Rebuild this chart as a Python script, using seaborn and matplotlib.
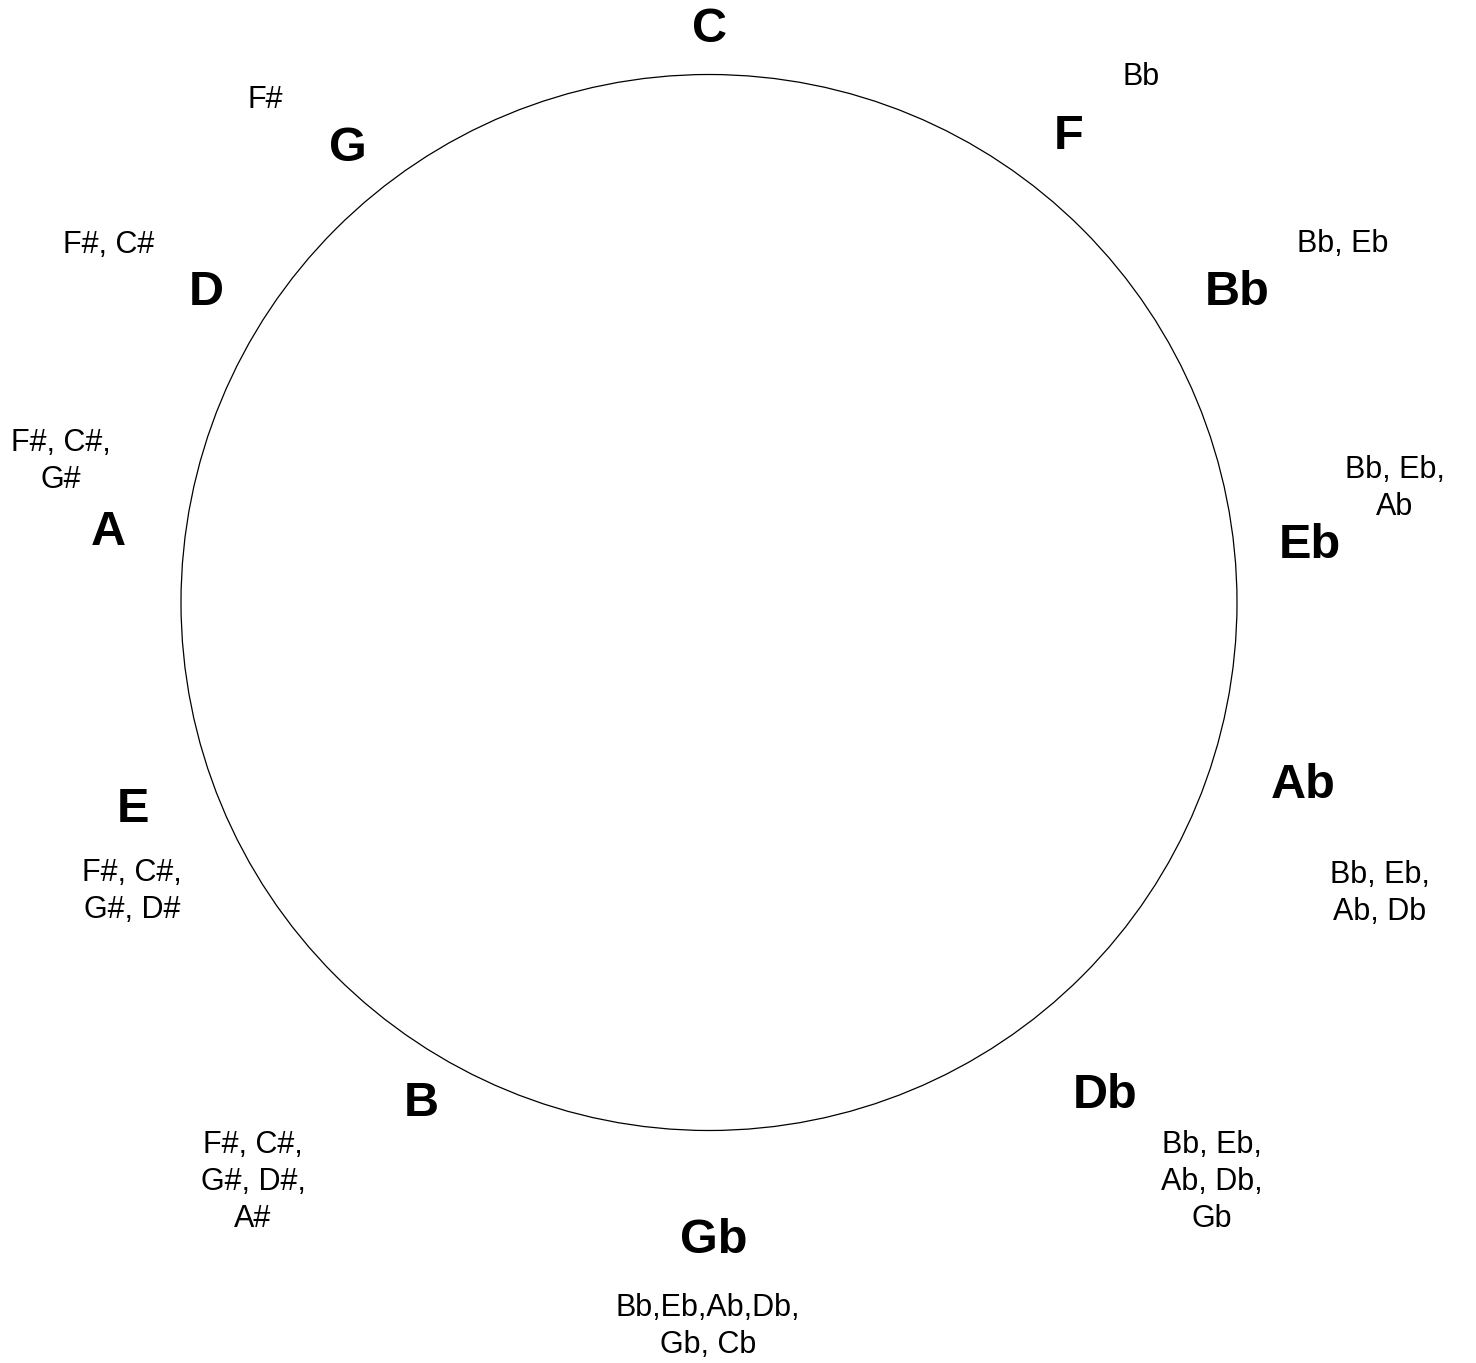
import matplotlib
matplotlib.use("Agg")
import matplotlib.pyplot as plt
import seaborn as sns
from matplotlib.patches import Circle

# --- circle of fifths data ---
keys = ["C", "F", "Bb", "Eb", "Ab", "Db", "Gb", "B", "E", "A", "D", "G"]
accidentals = [
    "",
    "Bb",
    "Bb, Eb",
    "Bb, Eb,\nAb",
    "Bb, Eb,\nAb, Db",
    "Bb, Eb,\nAb, Db,\nGb",
    "Bb,Eb,Ab,Db,\nGb, Cb",
    "F#, C#,\nG#, D#,\nA#",
    "F#, C#,\nG#, D#",
    "F#, C#,\nG#",
    "F#, C#",
    "F#",
]

# --- layout (pixel space, x centre / last-line baseline) ---
key_pos = [(709, 42), (1069, 149), (1237, 305), (1310, 558), (1303, 798), (1105, 1108),
           (714, 1253), (421, 1116), (133, 822), (108, 545), (206, 305), (348, 161)]
acc_pos = [(0, 0), (1141, 85), (1343, 252), (1395, 515), (1380, 920), (1212, 1227),
           (708, 1353), (253, 1227), (132, 918), (61, 488), (109, 253), (265, 108)]

W, H = 1476, 1363
sns.set_theme(style="white")
plt.rcParams["font.family"] = ["Liberation Sans", "DejaVu Sans"]

fig = plt.figure(figsize=(W / 100, H / 100), dpi=100)
ax = fig.add_axes([0, 0, 1, 1])
ax.set_xlim(0, W)
ax.set_ylim(H, 0)
ax.set_axis_off()

ax.add_patch(Circle((709, 602.5), 528, fill=False, edgecolor="black", linewidth=0.9))

for key, acc, (kx, ky), (ax_, ay) in zip(keys, accidentals, key_pos, acc_pos):
    ax.text(kx, ky, key, ha="center", va="baseline", fontsize=35,
            fontweight="bold", color="black")
    if acc:
        ax.text(ax_, ay, acc, ha="center", va="baseline", fontsize=22,
                multialignment="center", linespacing=1.3, color="black")

fig.savefig("out.png", dpi=100, facecolor="white")
plt.close(fig)
